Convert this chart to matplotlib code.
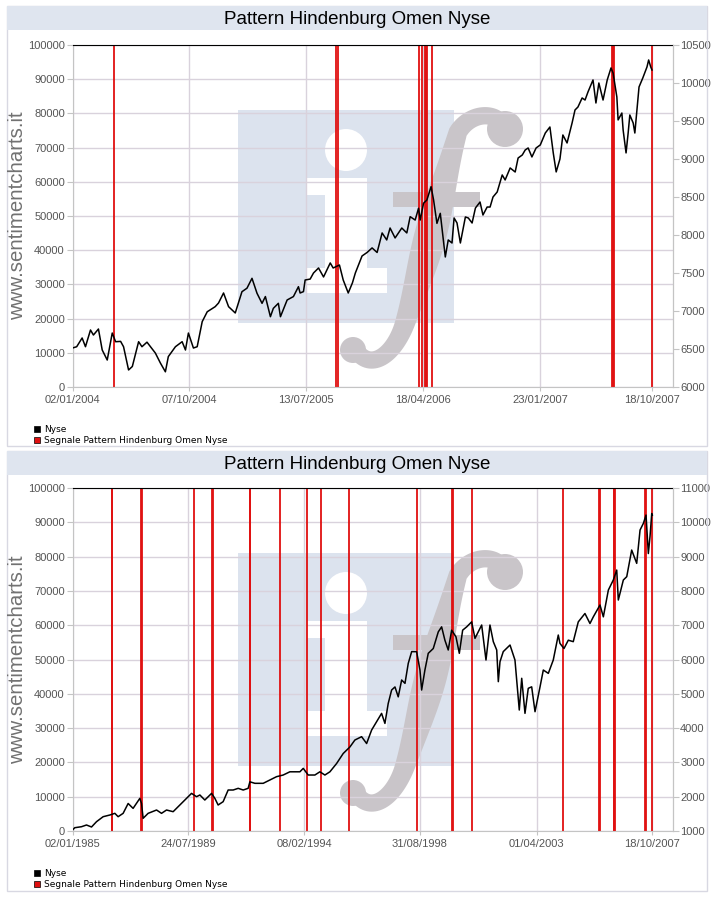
import numpy as np
import pandas as pd
import matplotlib
matplotlib.use("Agg")
import matplotlib.pyplot as plt
from matplotlib.patches import Rectangle, Ellipse, Polygon

plt.rcParams['font.family'] = ['Liberation Sans', 'DejaVu Sans']

TITLE = "Pattern Hindenburg Omen Nyse"
SITE = "www.sentimentcharts.it"
LEGEND = ["Nyse", "Segnale Pattern Hindenburg Omen Nyse"]

# ==========================================
# pannello 1: 2004 - 2007 (giorni dal 02/01/2004)
# ==========================================
top_start = "2004-01-02"
top_days = [0, 10, 23, 31, 43, 50, 62, 71, 83, 95,
            103, 115, 122, 134, 143, 158, 166, 178, 198, 210,
            222, 229, 246, 262, 270, 277, 289, 298, 310, 322,
            341, 349, 361, 373, 389, 405, 417, 429, 441, 453,
            461, 473, 480, 492, 497, 513, 528, 540, 544, 552,
            556, 568, 576, 588, 600, 616, 623, 638, 647, 659,
            669, 676, 692, 704, 716, 728, 740, 751, 759, 771,
            787, 799, 807, 819, 827, 831, 839, 847, 857, 863,
            871, 879, 891, 898, 907, 912, 919, 927, 939, 946,
            955, 963, 974, 981, 991, 998, 1005, 1015, 1027, 1034,
            1046, 1058, 1065, 1075, 1082, 1089, 1098, 1108, 1118, 1130,
            1141, 1149, 1156, 1165, 1172, 1182, 1194, 1201, 1208, 1218,
            1225, 1232, 1244, 1251, 1258, 1268, 1278, 1287, 1292, 1301,
            1304, 1313, 1316, 1323, 1328, 1332, 1340, 1344, 1349, 1354,
            1363, 1373, 1377, 1382, 1385]
top_nyse = [6513, 6530, 6645, 6530, 6750, 6684, 6763, 6487, 6355, 6710,
            6596, 6600, 6530, 6224, 6270, 6596, 6530, 6590, 6447, 6316,
            6200, 6400, 6530, 6596, 6487, 6710, 6513, 6530, 6860, 6990,
            7057, 7105, 7237, 7057, 6974, 7254, 7300, 7430, 7233, 7101,
            7190, 6925, 7035, 7101, 6925, 7145, 7190, 7320, 7237, 7255,
            7408, 7420, 7500, 7566, 7448, 7632, 7566, 7605, 7408, 7237,
            7370, 7500, 7724, 7770, 7830, 7770, 8027, 7935, 8092, 7961,
            8092, 8027, 8241, 8197, 8352, 8197, 8418, 8461, 8636, 8461,
            8153, 8285, 7711, 7935, 7895, 8224, 8158, 7895, 8237, 8224,
            8158, 8355, 8434, 8263, 8368, 8368, 8500, 8566, 8790, 8724,
            8882, 8829, 9013, 9053, 9119, 9145, 9027, 9145, 9185, 9342,
            9421, 9080, 8830, 9000, 9316, 9211, 9474, 9645, 9684, 9803,
            9776, 9882, 10040, 9737, 10000, 9776, 10040, 10198, 10132, 9816,
            9514, 9605, 9382, 9080, 9342, 9579, 9474, 9342, 9645, 9948,
            10066, 10211, 10303, 10211, 10171]
top_signal_days = [100, 630, 635, 829, 836, 843, 845, 848, 860,
                   1289, 1292, 1295, 1385]
top_ticks = ["02/01/2004", "07/10/2004", "13/07/2005",
             "18/04/2006", "23/01/2007", "18/10/2007"]
top_right = (6000, 10500, 500)

# ==========================================
# pannello 2: 1985 - 2007 (giorni dal 02/01/1985)
# ==========================================
bot_start = "1985-01-02"
bot_days = [0, 33, 129, 201, 273, 345, 440, 536, 608, 655,
            727, 799, 870, 967, 991, 1014, 1086, 1207, 1278, 1350,
            1445, 1541, 1637, 1709, 1781, 1829, 1900, 1997, 2044, 2091,
            2163, 2235, 2307, 2379, 2451, 2522, 2547, 2619, 2738, 2834,
            2930, 3025, 3121, 3193, 3265, 3313, 3384, 3480, 3552, 3624,
            3696, 3792, 3887, 3983, 4055, 4151, 4223, 4295, 4367, 4438,
            4486, 4533, 4582, 4630, 4677, 4726, 4774, 4821, 4870, 4941,
            4989, 5013, 5060, 5108, 5180, 5252, 5300, 5347, 5395, 5444,
            5506, 5554, 5602, 5660, 5731, 5779, 5875, 5937, 5994, 6042,
            6091, 6114, 6138, 6185, 6282, 6353, 6415, 6450, 6497, 6544,
            6593, 6641, 6713, 6760, 6832, 6903, 6975, 6999, 7057, 7119,
            7190, 7262, 7358, 7430, 7478, 7574, 7622, 7694, 7765, 7814,
            7837, 7909, 7958, 8029, 8101, 8149, 8197, 8235, 8268, 8292,
            8317, 8325]
bot_nyse = [1029, 1096, 1125, 1175, 1117, 1272, 1417, 1466, 1515, 1417,
            1515, 1802, 1660, 1952, 1802, 1370, 1515, 1612, 1515, 1612,
            1563, 1758, 1952, 2097, 2000, 2050, 1903, 2097, 1952, 1758,
            1855, 2195, 2195, 2244, 2195, 2244, 2434, 2390, 2390, 2487,
            2584, 2632, 2726, 2726, 2726, 2826, 2632, 2632, 2726, 2632,
            2726, 2968, 3260, 3450, 3653, 3750, 3551, 3944, 4186, 4429,
            4137, 4717, 5110, 5200, 4911, 5402, 5305, 5888, 6230, 6227,
            5693, 5110, 5693, 6180, 6320, 6806, 6952, 6563, 6277, 6855,
            6660, 6180, 6855, 6952, 7097, 6616, 7005, 5985, 7005, 6520,
            6277, 5354, 5935, 6230, 6422, 5985, 4527, 5452, 4430, 5160,
            5203, 4478, 5203, 5693, 5596, 5985, 6713, 6470, 6320, 6563,
            6520, 7097, 7341, 7050, 7244, 7588, 7244, 8025, 8317, 8608,
            7734, 8317, 8415, 9191, 8803, 9774, 9970, 10211, 9089, 9580,
            10256, 10211]
bot_signal_days = [560, 570, 986, 996, 1747, 2006, 2016, 2542, 2552, 2982,
                   3370, 3571, 3964, 4950, 5453, 5463, 5740, 7047, 7565, 7575,
                   7770, 7780, 7790, 8226, 8236, 8325]
bot_ticks = ["02/01/1985", "24/07/1989", "08/02/1994",
             "31/08/1998", "01/04/2003", "18/10/2007"]
bot_right = (1000, 11000, 1000)

# ==========================================
# layout (pixel della figura 714x897)
# ==========================================
W, H = 714, 897
fig = plt.figure(figsize=(W / 100, H / 100), dpi=100)
fig.patch.set_facecolor("white")

GRID = "#d9d2dc"
AXIS = "#c4c4c4"
TXT = "#555555"
RED = "#e01010"
LOGO_BLUE = "#dce3ee"
LOGO_GRAY = "#c9c5c9"


def fx(x):
    return x / W


def fy(y):
    return 1 - y / H


def frect(x0, y0, x1, y1, **kw):
    # rettangolo in pixel (origine in alto a sinistra)
    return Rectangle((fx(x0), fy(y1)), (x1 - x0) / W, (y1 - y0) / H,
                     transform=fig.transFigure, **kw)


def fcircle(x, y, r, **kw):
    return Ellipse((fx(x), fy(y)), 2 * r / W, 2 * r / H,
                   transform=fig.transFigure, **kw)


def bezier(p0, p1, p2, p3, n=40):
    t = np.linspace(0, 1, n)[:, None]
    p0, p1, p2, p3 = map(np.asarray, (p0, p1, p2, p3))
    return ((1 - t) ** 3 * p0 + 3 * (1 - t) ** 2 * t * p1
            + 3 * (1 - t) * t ** 2 * p2 + t ** 3 * p3)


def f_stroke(top):
    # la "f" del logo: tratto curvo piu' spesso al centro
    c = np.vstack([
        bezier((503, 128), (500, 112), (472, 110), (458, 132)),
        bezier((458, 132), (446, 172), (425, 262), (406, 320))[1:],
        bezier((406, 320), (395, 356), (370, 372), (356, 350))[1:],
    ])
    c[:, 1] += top - 45
    seg = np.diff(c, axis=0)
    s = np.concatenate([[0], np.cumsum(np.hypot(seg[:, 0], seg[:, 1]))])
    s /= s[-1]
    d = np.gradient(c, axis=0)
    d /= np.hypot(d[:, 0], d[:, 1])[:, None]
    nrm = np.column_stack([-d[:, 1], d[:, 0]])
    w = 17 + 15 * np.exp(-((s - 0.5) / 0.22) ** 2)
    left = c + nrm * w[:, None] / 2
    right = c - nrm * w[:, None] / 2
    pts = np.vstack([left, right[::-1]])
    return np.column_stack([pts[:, 0] / W, 1 - pts[:, 1] / H])


def watermark(ax, top):
    # logo "if" in trasparenza dietro al grafico
    white = dict(facecolor="white", edgecolor="none", zorder=0.15)
    gray = dict(facecolor=LOGO_GRAY, edgecolor="none", zorder=0.2)
    ax.add_patch(frect(238, top + 65, 454, top + 278, facecolor=LOGO_BLUE,
                       edgecolor="none", zorder=0.1))
    ax.add_patch(fcircle(346, top + 105, 21, **white))
    ax.add_patch(frect(307, top + 133, 367, top + 150, **white))
    ax.add_patch(frect(325, top + 133, 367, top + 230, **white))
    ax.add_patch(frect(307, top + 223, 387, top + 248, **white))

    ax.add_patch(Polygon(f_stroke(top), closed=True,
                         transform=fig.transFigure, **gray))
    ax.add_patch(fcircle(505, top + 84, 18, **gray))
    ax.add_patch(fcircle(353, top + 305, 13, **gray))
    ax.add_patch(frect(393, top + 147, 480, top + 162, **gray))


def panel(y_band, y_top, y_bot, start, days, nyse, sig_days, ticks, right,
          xmax_days, y_leg):
    # cornice e banda del titolo
    fig.patches.append(frect(7, y_band, 707, y_band + 440, facecolor="none",
                             edgecolor="#d8d8e2", lw=1))
    fig.patches.append(frect(7, y_band, 707, y_band + 24, facecolor="#dfe5ef",
                             edgecolor="none"))
    fig.text(fx(357), fy(y_band + 13), TITLE, ha="center", va="center",
             fontsize=13.5, color="black")

    ax = fig.add_axes([fx(72.5), fy(y_bot), 600 / W, (y_bot - y_top) / H])
    t0 = pd.Timestamp(start)
    dates = t0 + pd.to_timedelta(days, unit="D")
    sig = t0 + pd.to_timedelta(sig_days, unit="D")
    tick_dates = pd.to_datetime(ticks, format="%d/%m/%Y")

    watermark(ax, y_top)
    ax.vlines(sig, 0, 100000, color=RED, lw=1.3, zorder=2)
    ax.set_ylim(0, 100000)
    ax.set_yticks(np.arange(0, 100001, 10000))
    ax.set_xticks(tick_dates)
    ax.set_xticklabels(ticks)
    ax.set_xlim(t0, t0 + pd.Timedelta(days=xmax_days))
    ax.grid(True, color=GRID, lw=1, zorder=0.5)
    ax.set_axisbelow(True)
    for s in ["left", "bottom", "right"]:
        ax.spines[s].set_color(AXIS)
    ax.spines["top"].set_color("black")
    ax.tick_params(axis="y", length=4, color=AXIS, labelsize=8,
                   labelcolor=TXT, pad=1.5)
    ax.tick_params(axis="x", length=3, color=AXIS, labelsize=8,
                   labelcolor=TXT, pad=3)

    ax2 = ax.twinx()
    ax2.plot(dates, nyse, color="black", lw=1.1, zorder=3)
    lo, hi, step = right
    ax2.set_ylim(lo, hi)
    ax2.set_yticks(np.arange(lo, hi + 1, step))
    for s in ["left", "bottom", "top"]:
        ax2.spines[s].set_visible(False)
    ax2.spines["right"].set_color(AXIS)
    ax2.tick_params(axis="y", length=4, color=AXIS, labelsize=8,
                    labelcolor=TXT, pad=1.5)

    fig.text(fx(18), fy((y_top + y_bot) / 2), SITE, rotation=90,
             ha="center", va="center", fontsize=14.7, color="#717171")

    # legenda
    for i, (lab, col) in enumerate(zip(LEGEND, ["black", RED])):
        yc = y_leg + 11 * i
        fig.patches.append(frect(34, yc - 3, 40, yc + 3, facecolor=col,
                                 edgecolor="black", lw=0.5))
        fig.text(fx(44), fy(yc), lab, ha="left", va="center",
                 fontsize=6.5, family="DejaVu Sans", color="black")


panel(6, 45, 387, top_start, top_days, top_nyse, top_signal_days,
      top_ticks, top_right, 1434, 429)
panel(451, 488, 831, bot_start, bot_days, bot_nyse, bot_signal_days,
      bot_ticks, bot_right, 8615, 873)

fig.savefig("out.png", dpi=100)
